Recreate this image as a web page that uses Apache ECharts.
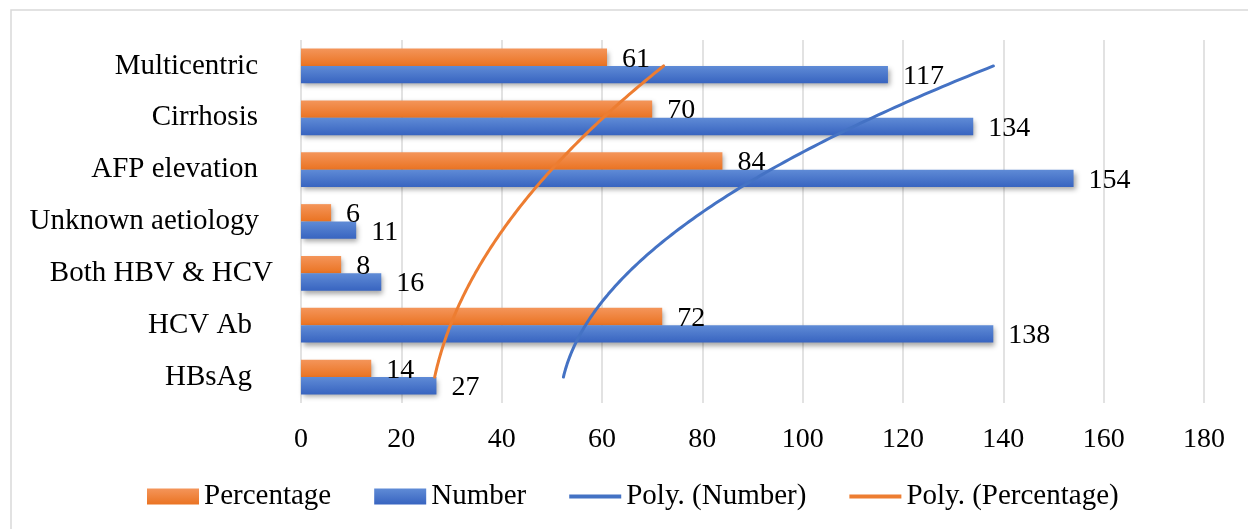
<!DOCTYPE html>
<html>
<head>
<meta charset="utf-8">
<script src="https://cdn.jsdelivr.net/npm/echarts@6/dist/echarts.min.js"></script>
<style>
  html, body { margin: 0; padding: 0; background: #ffffff; }
  #chart { width: 1248px; height: 529px; }
</style>
</head>
<body>
<div id="chart"></div>
<script>
// Risk factors / findings, listed bottom to top on the category axis
const categories = ['HBsAg', 'HCV Ab', 'Both HBV & HCV', 'Unknown aetiology', 'AFP elevation', 'Cirrhosis', 'Multicentric'];
const numberValues = [27, 138, 16, 11, 154, 134, 117];
const percentageValues = [14, 72, 8, 6, 84, 70, 61];
const xTickValues = [0, 20, 40, 60, 80, 100, 120, 140, 160, 180];

// Some category labels carry extra space after them
const labelPadRight = {
  'HBsAg': 21, 'HCV Ab': 21, 'Both HBV & HCV': 0, 'Unknown aetiology': 14,
  'AFP elevation': 15, 'Cirrhosis': 15, 'Multicentric': 15
};

const FONT = '"Liberation Serif", "Times New Roman", serif';
const BLUE = '#4472C4';
const ORANGE = '#ED7D31';
const LINE_ICON = 'path://M0,0H52V4H0Z';

// Second-order least-squares trend over category positions 1..n
function polyFit2(ys) {
  const S = [0, 0, 0, 0, 0], T = [0, 0, 0];
  ys.forEach((y, i) => {
    const x = i + 1;
    for (let k = 0; k < 5; k++) S[k] += Math.pow(x, k);
    for (let k = 0; k < 3; k++) T[k] += y * Math.pow(x, k);
  });
  const M = [[S[0], S[1], S[2]], [S[1], S[2], S[3]], [S[2], S[3], S[4]]];
  const det = m => m[0][0] * (m[1][1] * m[2][2] - m[1][2] * m[2][1])
                 - m[0][1] * (m[1][0] * m[2][2] - m[1][2] * m[2][0])
                 + m[0][2] * (m[1][0] * m[2][1] - m[1][1] * m[2][0]);
  const D = det(M);
  const coef = [0, 1, 2].map(c => det(M.map((row, r) => row.map((v, j) => (j === c ? T[r] : v)))) / D);
  return x => coef[0] + coef[1] * x + coef[2] * x * x;
}

function trendPoints(ys) {
  const f = polyFit2(ys);
  const pts = [];
  for (let t = 1; t <= ys.length + 1e-9; t += 0.05) pts.push([f(t), t]);
  return pts;
}

function barGradient(top, bottom) {
  return new echarts.graphic.LinearGradient(0, 0, 0, 1, [
    { offset: 0, color: top },
    { offset: 1, color: bottom }
  ]);
}

const barShadow = {
  shadowBlur: 5, shadowOffsetX: 2, shadowOffsetY: 3, shadowColor: 'rgba(0,0,0,0.35)'
};

const valueLabel = {
  show: true, position: 'right', distance: 15, offset: [0, 2],
  fontFamily: FONT, fontSize: 28, color: '#000000'
};

const chart = echarts.init(document.getElementById('chart'), null, { renderer: 'canvas' });

chart.setOption({
  animation: false,
  backgroundColor: '#ffffff',
  textStyle: { fontFamily: FONT },
  graphic: [{
    type: 'rect', silent: true, z: -10,
    shape: { x: 11, y: 10, width: 1300, height: 600 },
    style: { fill: 'none', stroke: '#D9D9D9', lineWidth: 1.5 }
  }],
  grid: { left: 301, right: 44, top: 40, bottom: 126, containLabel: false },
  legend: {
    left: 142, top: 477,
    itemWidth: 52, itemHeight: 16, itemGap: 43,
    symbolKeepAspect: true,
    textStyle: { fontFamily: FONT, fontSize: 29, color: '#000000' },
    data: [
      { name: 'Percentage', icon: 'rect' },
      { name: 'Number', icon: 'rect' },
      { name: 'Poly. (Number)', icon: LINE_ICON },
      { name: 'Poly. (Percentage)', icon: LINE_ICON }
    ]
  },
  xAxis: {
    type: 'value',
    min: xTickValues[0], max: xTickValues[xTickValues.length - 1],
    interval: xTickValues[1] - xTickValues[0],
    axisLine: { show: false }, axisTick: { show: false },
    axisLabel: { fontFamily: FONT, fontSize: 28, color: '#000000', margin: 23 },
    splitLine: { show: true, lineStyle: { color: '#D9D9D9', width: 1.5 } }
  },
  yAxis: [{
    type: 'category', data: categories,
    axisLine: { show: false }, axisTick: { show: false },
    axisLabel: {
      margin: 28,
      formatter: v => '{c' + categories.indexOf(v) + '|' + v + '}',
      rich: Object.fromEntries(categories.map((c, i) => ['c' + i, {
        fontFamily: FONT, fontSize: 29, color: '#000000',
        padding: [0, labelPadRight[c], 0, 0]
      }]))
    }
  }, {
    type: 'value', min: 0.5, max: categories.length + 0.5, show: false
  }],
  series: [
    {
      name: 'Percentage', type: 'bar', data: percentageValues,
      barGap: '0%', barCategoryGap: '33%',
      itemStyle: Object.assign({ color: barGradient('#F4955A', '#EA7322') }, barShadow),
      label: valueLabel
    },
    {
      name: 'Number', type: 'bar', data: numberValues,
      barGap: '0%', barCategoryGap: '33%',
      itemStyle: Object.assign({ color: barGradient('#5F8BD6', '#3864C0') }, barShadow),
      label: valueLabel
    },
    {
      name: 'Poly. (Number)', type: 'line', yAxisIndex: 1,
      data: trendPoints(numberValues), symbol: 'none', smooth: false,
      lineStyle: { color: BLUE, width: 3, cap: 'round' }, itemStyle: { color: BLUE }, z: 5
    },
    {
      name: 'Poly. (Percentage)', type: 'line', yAxisIndex: 1,
      data: trendPoints(percentageValues), symbol: 'none', smooth: false,
      lineStyle: { color: ORANGE, width: 3, cap: 'round' }, itemStyle: { color: ORANGE }, z: 5
    }
  ]
});
</script>
</body>
</html>
